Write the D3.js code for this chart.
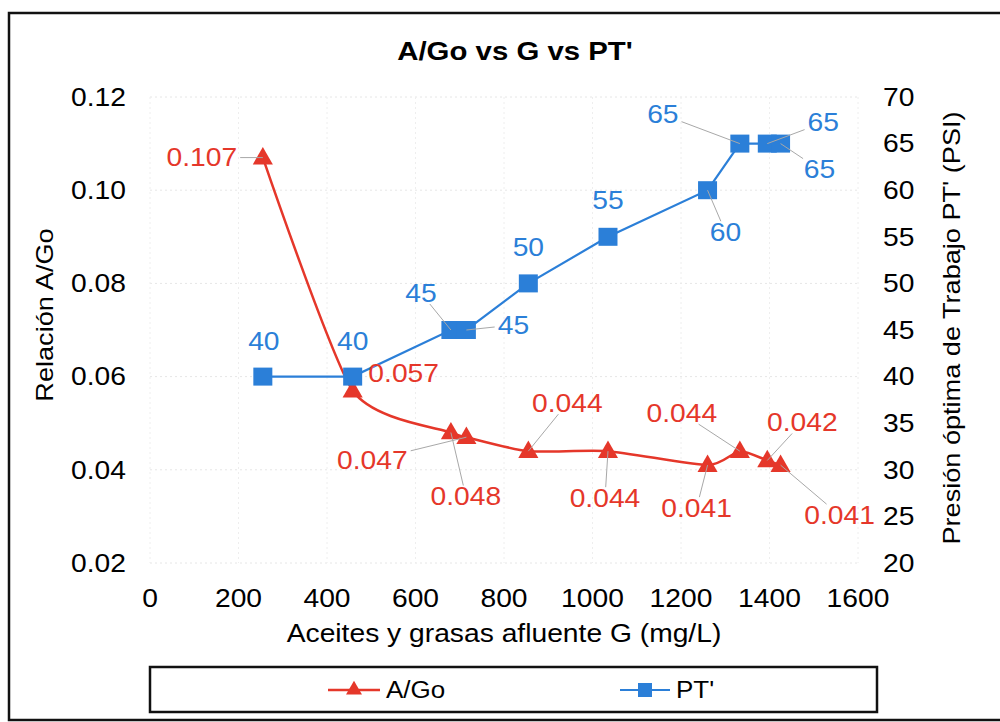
<!DOCTYPE html>
<html>
<head>
<meta charset="utf-8">
<script src="https://cdn.jsdelivr.net/npm/d3@7"></script>
<style>
  body { margin: 0; background: #fff; }
  text { font-family: "Liberation Sans", Arial, sans-serif; }
</style>
</head>
<body>
<svg id="chart"></svg>
<script>
// data
var grasasG   = [255, 458, 680, 715, 855, 1035, 1260, 1333, 1395, 1425];
var relAGo    = [0.107, 0.057, 0.048, 0.047, 0.044, 0.044, 0.041, 0.044, 0.042, 0.041];
var presionPT = [40, 40, 45, 45, 50, 55, 60, 65, 65, 65];

var xTicks     = [0, 200, 400, 600, 800, 1000, 1200, 1400, 1600];
var leftTicks  = [0.02, 0.04, 0.06, 0.08, 0.10, 0.12];
var rightTicks = [20, 25, 30, 35, 40, 45, 50, 55, 60, 65, 70];

var chartTitle  = "A/Go vs G vs PT'";
var xTitle      = "Aceites y grasas afluente G (mg/L)";
var leftTitle   = "Relación A/Go";
var rightTitle  = "Presión óptima de Trabajo PT' (PSI)";
var seriesNames = ["A/Go", "PT'"];

// label placement (pixel offsets from the marker, leader line flag)
var redLabelPos  = [[-61,0,1],[51,-17,0],[15,64,1],[-94,23,1],[39,-48,1],[-3,47,1],[-11,43,1],[-58,-38,1],[35,-38,1],[59,50,1]];
var blueLabelPos = [[1,-35,0],[0,-35,0],[-30,-37,1],[47,-5,1],[0,-36,0],[0,-37,0],[18,42,1],[-77,-29,1],[56,-21,1],[39,26,1]];

var W = 1000, H = 722;
var RED = "#e5372a", BLUE = "#2b7fd8", GREY = "#a8a8a8";
var SX = 1.13; // source text is a bit wider than Arial

var plotL = 150, plotR = 858, plotT = 97, plotB = 563;

var svg = d3.select('#chart').attr('width', W).attr('height', H);

var x = d3.scaleLinear().domain([0, 1600]).range([plotL, plotR]);
var yL = d3.scaleLinear().domain([0.02, 0.12]).range([plotB, plotT]);
var yR = d3.scaleLinear().domain([20, 70]).range([plotB, plotT]);

function txt(g, px, py, s, o) {
  o = o || {};
  return g.append('text')
    .attr('transform', 'translate(' + px + ',' + py + ') rotate(' + (o.rot || 0) + ') scale(' + SX + ',1)')
    .attr('text-anchor', o.anchor || 'middle')
    .attr('dy', '0.35em')
    .style('font-size', (o.size || 25) + 'px')
    .style('font-weight', o.bold ? 'bold' : null)
    .attr('fill', o.color || '#000')
    .text(s);
}

// outer frame
svg.append('rect').attr('x', 9).attr('y', 13).attr('width', 1000).attr('height', 707)
  .attr('fill', 'none').attr('stroke', '#111').attr('stroke-width', 2.5);

// gridlines
var grid = svg.append('g');
grid.selectAll('.hg').data(leftTicks).enter().append('line')
  .attr('x1', plotL).attr('x2', plotR)
  .attr('y1', function(d){ return yL(d); }).attr('y2', function(d){ return yL(d); })
  .attr('stroke', '#e6e6e6').attr('stroke-dasharray', '2,3');
grid.selectAll('.vg').data(xTicks).enter().append('line')
  .attr('x1', function(d){ return x(d); }).attr('x2', function(d){ return x(d); })
  .attr('y1', plotT).attr('y2', plotB)
  .attr('stroke', '#eeeeee').attr('stroke-dasharray', '2,3');

// axes (tick labels only, like the source)
var axX = svg.append('g').attr('transform', 'translate(0,' + plotB + ')')
  .call(d3.axisBottom(x).tickValues(xTicks).tickSize(0));
axX.select('.domain').remove();
axX.selectAll('.tick text').remove();
xTicks.forEach(function(d){ txt(svg, x(d), 598, d3.format('d')(d)); });

var axL = svg.append('g').attr('transform', 'translate(' + plotL + ',0)')
  .call(d3.axisLeft(yL).tickValues(leftTicks).tickSize(0));
axL.select('.domain').remove();
axL.selectAll('.tick text').remove();
leftTicks.forEach(function(d){ txt(svg, 126, yL(d), d3.format('.2f')(d), {anchor: 'end'}); });

var axR = svg.append('g').attr('transform', 'translate(' + plotR + ',0)')
  .call(d3.axisRight(yR).tickValues(rightTicks).tickSize(0));
axR.select('.domain').remove();
axR.selectAll('.tick text').remove();
rightTicks.forEach(function(d){ txt(svg, 883, yR(d), d, {anchor: 'start'}); });

// titles
txt(svg, 515, 51, chartTitle, {bold: true, size: 26});
txt(svg, 504, 633, xTitle, {size: 25});
txt(svg, 45, 315, leftTitle, {size: 24, rot: -90});
txt(svg, 952, 328, rightTitle, {size: 24, rot: -90});

// series
var redPts = grasasG.map(function(g, i){ return [x(g), yL(relAGo[i])]; });
var bluePts = grasasG.map(function(g, i){ return [x(g), yR(presionPT[i])]; });

svg.append('path').attr('d', d3.line().curve(d3.curveCardinal.tension(0.35))(redPts))
  .attr('fill', 'none').attr('stroke', RED).attr('stroke-width', 2.5);
var tri = d3.symbol().type(d3.symbolTriangle).size(175);
svg.selectAll('.tri').data(redPts).enter().append('path')
  .attr('d', tri).attr('fill', RED)
  .attr('transform', function(d){ return 'translate(' + d[0] + ',' + (d[1] + 1) + ')'; });

svg.append('path').attr('d', d3.line()(bluePts))
  .attr('fill', 'none').attr('stroke', BLUE).attr('stroke-width', 2.2);
svg.selectAll('.sq').data(bluePts).enter().append('rect')
  .attr('x', function(d){ return d[0] - 9.5; }).attr('y', function(d){ return d[1] - 9; })
  .attr('width', 19).attr('height', 18).attr('fill', BLUE);

// data labels with leader lines
function addLabels(pts, vals, pos, fmt, color) {
  var lg = svg.append('g');
  pts.forEach(function(p, i){
    var lx = p[0] + pos[i][0], ly = p[1] + pos[i][1];
    var t = txt(lg, lx, ly, fmt(vals[i]), {color: color, size: 25});
    if (!pos[i][2]) return;
    var hw = t.node().getComputedTextLength() * SX / 2 + 3, hh = 11;
    var dx = p[0] - lx, dy = p[1] - ly;
    var s = Math.min(hw / Math.abs(dx || 1e-6), hh / Math.abs(dy || 1e-6));
    lg.append('line')
      .attr('x1', lx + dx * s).attr('y1', ly + dy * s)
      .attr('x2', p[0]).attr('y2', p[1])
      .attr('stroke', GREY).attr('stroke-width', 1);
  });
}
addLabels(redPts, relAGo, redLabelPos, d3.format('.3f'), RED);
addLabels(bluePts, presionPT, blueLabelPos, d3.format('d'), BLUE);

// legend
var leg = svg.append('g');
leg.append('rect').attr('x', 150).attr('y', 667).attr('width', 727).attr('height', 45)
  .attr('fill', '#fff').attr('stroke', '#111').attr('stroke-width', 2.5);
leg.append('line').attr('x1', 328).attr('x2', 380).attr('y1', 690).attr('y2', 690)
  .attr('stroke', RED).attr('stroke-width', 2.5);
leg.append('path').attr('d', d3.symbol().type(d3.symbolTriangle).size(110))
  .attr('transform', 'translate(354,690)').attr('fill', RED);
txt(leg, 386, 690, seriesNames[0], {anchor: 'start', size: 23});
leg.append('line').attr('x1', 620).attr('x2', 670).attr('y1', 690).attr('y2', 690)
  .attr('stroke', BLUE).attr('stroke-width', 2);
leg.append('rect').attr('x', 638).attr('y', 683).attr('width', 14).attr('height', 14).attr('fill', BLUE);
txt(leg, 676, 690, seriesNames[1], {anchor: 'start', size: 23});
</script>
</body>
</html>
